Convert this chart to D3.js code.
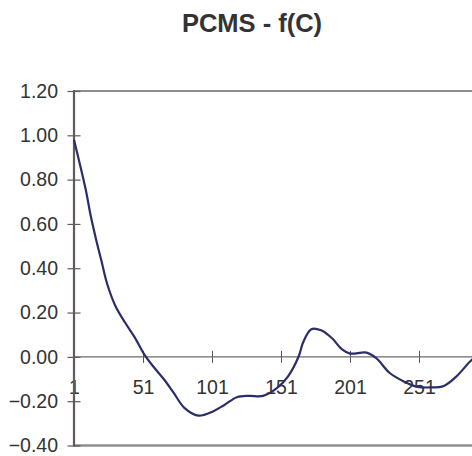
<!DOCTYPE html>
<html lang="en">
<head>
    <meta charset="UTF-8">
    <title>PCMS - f(C)</title>
    <style>
        body { margin: 0; background: #fff; }
        svg { display: block; }
        text { font-family: "Liberation Sans", Arial, sans-serif; fill: #333; }
    </style>
    <script src="https://d3js.org/d3.v7.min.js"></script>
</head>
<body>
    <svg width="472" height="456"></svg>
    <script>
        // sample index (C) and PCMS value
        const cValues = [1, 6, 10, 13, 17, 21, 25, 31, 38, 45, 52, 58, 66, 73, 81, 91, 102, 110, 119, 128, 138, 148, 156, 164, 167, 173, 180, 188, 195, 201, 213, 220, 230, 240, 249, 259, 269, 278, 288, 291];
        const pcms    = [0.98, 0.85, 0.74, 0.64, 0.53, 0.43, 0.33, 0.23, 0.155, 0.088, 0.01, -0.04, -0.10, -0.16, -0.23, -0.265, -0.245, -0.217, -0.182, -0.176, -0.176, -0.141, -0.089, 0.005, 0.065, 0.125, 0.12, 0.084, 0.035, 0.015, 0.019, -0.006, -0.074, -0.111, -0.134, -0.138, -0.131, -0.089, -0.021, -0.005];
        const yTicks = [-0.4, -0.2, 0, 0.2, 0.4, 0.6, 0.8, 1.0, 1.2];
        const xTicks = [1, 51, 101, 151, 201, 251];

        const svg = d3.select("svg");
        const plotLeft = 74, plotTop = 91, plotBottom = 445.5;

        const x = d3.scaleLinear().domain([1, 301]).range([plotLeft, plotLeft + 300 * 1.38]);
        const y = d3.scaleLinear().domain([-0.4, 1.2]).range([plotBottom, plotTop]);

        svg.append("text")
            .attr("x", 252)
            .attr("y", 32)
            .attr("text-anchor", "middle")
            .style("font-size", "25.5px")
            .style("font-weight", "bold")
            .text("PCMS - f(C)");

        // frame top and bottom
        svg.append("line")
            .attr("x1", plotLeft).attr("x2", 472)
            .attr("y1", y(1.2)).attr("y2", y(1.2))
            .attr("stroke", "#958d8a").attr("stroke-width", 2);
        svg.append("line")
            .attr("x1", plotLeft).attr("x2", 472)
            .attr("y1", y(-0.4)).attr("y2", y(-0.4))
            .attr("stroke", "#958d8a").attr("stroke-width", 2.5);

        // y axis
        const yAxis = d3.axisLeft(y)
            .tickValues(yTicks)
            .tickFormat(d3.format(".2f"))
            .tickSize(0)
            .tickPadding(16);
        const yg = svg.append("g")
            .attr("transform", `translate(${plotLeft},0)`)
            .call(yAxis);
        yg.select(".domain").remove();
        yg.selectAll("text")
            .style("font-size", "19.5px")
            .style("font-family", "Liberation Sans, Arial, sans-serif")
            .attr("fill", "#333");
        yg.selectAll(".tick").append("line")
            .attr("x1", -6.5).attr("x2", 6.5)
            .attr("stroke", "#625a5a").attr("stroke-width", 1.2);

        // x axis at y = 0
        const xAxis = d3.axisBottom(x)
            .tickValues(xTicks)
            .tickFormat(d3.format("d"))
            .tickSize(0)
            .tickPadding(23);
        const xg = svg.append("g")
            .attr("transform", `translate(0,${y(0)})`)
            .call(xAxis);
        xg.select(".domain").remove();
        xg.selectAll("text")
            .style("font-size", "19.5px")
            .style("font-family", "Liberation Sans, Arial, sans-serif")
            .attr("fill", "#333");
        xg.selectAll(".tick").append("line")
            .attr("y1", -6).attr("y2", 6)
            .attr("stroke", "#555").attr("stroke-width", 1);
        xg.append("line")
            .attr("x1", plotLeft).attr("x2", 472)
            .attr("stroke", "#6e6a6a").attr("stroke-width", 1.2);

        svg.append("line")
            .attr("x1", plotLeft).attr("x2", plotLeft)
            .attr("y1", plotTop - 1).attr("y2", plotBottom + 1)
            .attr("stroke", "#625a5a").attr("stroke-width", 2.2);

        const line = d3.line()
            .x((d, i) => x(cValues[i]))
            .y(d => y(d))
            .curve(d3.curveCatmullRom.alpha(0.5));

        svg.append("path")
            .datum(pcms)
            .attr("fill", "none")
            .attr("stroke", "#2b2d6a")
            .attr("stroke-width", 2.2)
            .attr("d", line);
    </script>
</body>
</html>
